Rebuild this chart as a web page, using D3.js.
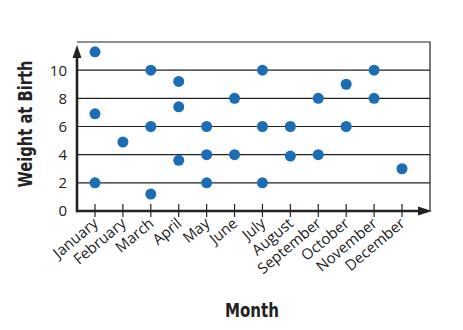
<!DOCTYPE html>
<html>
<head>
<meta charset="utf-8">
<script src="https://cdn.jsdelivr.net/npm/d3@7"></script>
<style>
  html, body { margin: 0; padding: 0; background: #fff; }
  svg { display: block; }
</style>
</head>
<body>
<svg id="chart" width="463" height="330"></svg>
<script>
// Birth weights recorded by birth month
const months = ["January", "February", "March", "April", "May", "June",
                "July", "August", "September", "October", "November", "December"];
const birthMonth = ["January", "January", "January", "February", "March", "March", "March",
                    "April", "April", "April", "May", "May", "May", "June", "June",
                    "July", "July", "July", "August", "August", "September", "September",
                    "October", "October", "November", "November", "December"];
const birthWeight = [11.3, 6.9, 2, 4.9, 10, 6, 1.2,
                     9.2, 7.4, 3.6, 6, 4, 2, 8, 4,
                     10, 6, 2, 6, 3.9, 8, 4,
                     9, 6, 10, 8, 3];
const yTicks = [0, 2, 4, 6, 8, 10];
const gridValues = [2, 4, 6, 8, 10];

(function draw() {
  const svg = d3.select("#chart");
  const plotLeft = 77, plotRight = 431, plotTop = 42, plotBottom = 211;

  const x = d3.scalePoint().domain(months).range([95, 402]);
  const y = d3.scaleLinear().domain([0, 12]).range([plotBottom, plotTop]);

  const sansFont = "'Open Sans', 'Noto Sans', sans-serif";
  const boldFont = "'DejaVu Sans', sans-serif";

  // frame: top and right edges
  svg.append("path")
    .attr("d", `M${plotLeft},${plotTop}H${plotRight - 1}V${plotBottom}`)
    .attr("fill", "none").attr("stroke", "#222").attr("stroke-width", 1.2);

  // horizontal grid lines
  svg.append("g").selectAll("line").data(gridValues).join("line")
    .attr("x1", plotLeft).attr("x2", plotRight - 1)
    .attr("y1", d => y(d)).attr("y2", d => y(d))
    .attr("stroke", "#222").attr("stroke-width", 1.2);

  // x axis ticks crossing the baseline
  svg.append("g").selectAll("line").data(months).join("line")
    .attr("x1", d => x(d)).attr("x2", d => x(d))
    .attr("y1", plotBottom - 7).attr("y2", plotBottom + 6)
    .attr("stroke", "#222").attr("stroke-width", 1.2);

  // axes with arrowheads
  svg.append("line").attr("x1", plotLeft).attr("x2", plotRight - 12)
    .attr("y1", plotBottom).attr("y2", plotBottom)
    .attr("stroke", "#222").attr("stroke-width", 2.6);
  svg.append("path")
    .attr("d", `M${plotRight + 1},${plotBottom}L${plotRight - 13},${plotBottom - 4.5}L${plotRight - 13},${plotBottom + 4.5}Z`)
    .attr("fill", "#222");
  svg.append("line").attr("x1", plotLeft).attr("x2", plotLeft)
    .attr("y1", plotBottom + 1.3).attr("y2", plotTop + 14)
    .attr("stroke", "#222").attr("stroke-width", 2.6);
  svg.append("path")
    .attr("d", `M${plotLeft},${plotTop + 3}L${plotLeft - 4.5},${plotTop + 16}L${plotLeft + 4.5},${plotTop + 16}Z`)
    .attr("fill", "#222");

  // y tick labels
  svg.append("g").selectAll("text").data(yTicks).join("text")
    .attr("x", 67).attr("y", d => y(d)).attr("dy", "0.36em")
    .attr("text-anchor", "end")
    .attr("font-family", sansFont).attr("font-size", 15).attr("fill", "#222")
    .text(d => d);

  // month labels, rotated
  svg.append("g").selectAll("text").data(months).join("text")
    .attr("transform", d => `translate(${x(d) + 4},${plotBottom + 14}) rotate(-40)`)
    .attr("text-anchor", "end")
    .attr("font-family", sansFont).attr("font-size", 15).attr("fill", "#222")
    .text(d => d);

  // points
  svg.append("g").selectAll("circle").data(birthWeight).join("circle")
    .attr("cx", (d, i) => x(birthMonth[i]))
    .attr("cy", d => y(d))
    .attr("r", 5.5)
    .attr("fill", "#1b6db5");

  // axis titles (condensed bold)
  svg.append("text")
    .attr("x", 252).attr("y", 317)
    .attr("text-anchor", "middle")
    .attr("font-family", boldFont).attr("font-weight", "bold")
    .attr("font-stretch", "condensed")
    .attr("font-size", 20).attr("fill", "#222")
    .attr("textLength", 54).attr("lengthAdjust", "spacingAndGlyphs")
    .text("Month");
  svg.append("text")
    .attr("transform", "translate(32,124) rotate(-90)")
    .attr("text-anchor", "middle")
    .attr("font-family", boldFont).attr("font-weight", "bold")
    .attr("font-stretch", "condensed")
    .attr("font-size", 20).attr("fill", "#222")
    .attr("textLength", 127).attr("lengthAdjust", "spacingAndGlyphs")
    .text("Weight at Birth");
})();
</script>
</body>
</html>
